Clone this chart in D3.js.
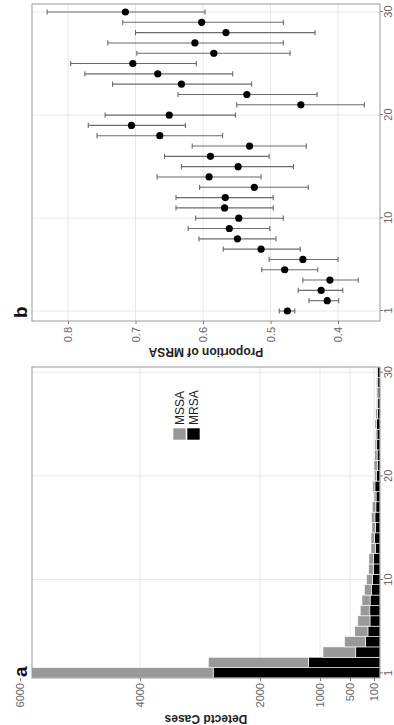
<!DOCTYPE html>
<html><head><meta charset="utf-8">
<script src="https://cdn.jsdelivr.net/npm/d3@7"></script>
<style>
body{margin:0;background:#fff}
svg{display:block}
text{font-family:"Liberation Sans",Arial,sans-serif}
</style>
</head><body>
<svg id="c" width="394" height="725"></svg>
<script>
// ---------- data ----------
const categories = [1,2,3,4,5,6,7,8,9,10,11,12,13,14,15,16,17,18,19,20,21,22,23,24,25,26,27,28,29,30];
const mrsaCases = [2780,1190,404,243,201,167,170,165,146,123,108,105,79,89,74,85,69,66,85,62,45,48,54,50,60,42,37,33,37,40];
const mssaCases = [3070,1670,546,347,219,203,160,135,114,102,82,80,71,61,61,60,61,34,35,33,55,42,31,25,25,30,23,25,25,16];
const casesTicks = [100,500,1000,2000,4000,6000];
const categoryTicks = [1,10,20,30];
const propMRSA  = [0.475,0.416,0.425,0.412,0.479,0.452,0.514,0.549,0.561,0.547,0.568,0.567,0.524,0.591,0.548,0.589,0.531,0.664,0.706,0.650,0.455,0.535,0.632,0.667,0.704,0.584,0.612,0.566,0.602,0.715];
const propLower = [0.464,0.399,0.393,0.370,0.430,0.400,0.456,0.492,0.501,0.481,0.496,0.496,0.444,0.514,0.466,0.502,0.447,0.571,0.626,0.552,0.361,0.431,0.528,0.556,0.610,0.471,0.481,0.434,0.481,0.597];
const propUpper = [0.487,0.443,0.459,0.452,0.513,0.502,0.570,0.606,0.622,0.611,0.640,0.640,0.605,0.668,0.632,0.657,0.616,0.757,0.770,0.745,0.550,0.637,0.734,0.775,0.796,0.698,0.741,0.700,0.719,0.831];
const propTicks = [0.4,0.5,0.6,0.7,0.8];
const seriesNames = ["MRSA","MSSA"];
const legendLabels = ["MSSA","MRSA"];

// ---------- drawing ----------
const svg = d3.select("#c");
// chart laid out in its own 725x394 frame, then turned a quarter turn counter-clockwise
const g = svg.append("g").attr("transform","translate(0,725) rotate(-90)");
const gridCol = "#e8e8e8", boxCol = "#9a9a9a", tickCol = "#7a7a7a", labCol = "#666";

function styleAxis(sel){
  sel.select(".domain").remove();
  sel.selectAll(".tick line").attr("stroke",tickCol);
  sel.selectAll(".tick text").attr("fill",labCol).style("font-size","11px")
     .style("font-family",'"Liberation Sans",Arial,sans-serif');
}

// ===== Panel a =====
const A = {left:47,right:358,top:32,bottom:380};
const xA = d3.scaleBand().domain(categories).range([A.left,A.right]).padding(0);
const yA = d3.scaleLinear().domain([0,6000]).range([380,20]);
const ga = g.append("g");
ga.append("clipPath").attr("id","clipA").append("rect")
  .attr("x",A.left).attr("y",A.top).attr("width",A.right-A.left).attr("height",A.bottom-A.top);
ga.append("g").selectAll("line").data(casesTicks.filter(t=>yA(t)>A.top)).join("line")
  .attr("x1",A.left).attr("x2",A.right).attr("y1",d=>yA(d)).attr("y2",d=>yA(d))
  .attr("stroke",gridCol);
ga.append("g").selectAll("line").data(categoryTicks).join("line")
  .attr("x1",d=>xA(d)+xA.bandwidth()/2).attr("x2",d=>xA(d)+xA.bandwidth()/2)
  .attr("y1",A.top).attr("y2",A.bottom).attr("stroke",gridCol);

const rows = categories.map((c,i)=>({cat:c, MRSA:mrsaCases[i], MSSA:mssaCases[i]}));
const stacked = d3.stack().keys(seriesNames)(rows);
const colA = {MRSA:"#000000", MSSA:"#999999"};
ga.append("g").attr("clip-path","url(#clipA)").selectAll("g").data(stacked).join("g")
  .attr("fill",d=>colA[d.key])
  .selectAll("rect").data(d=>d).join("rect")
  .attr("x",d=>xA(d.data.cat)).attr("width",xA.bandwidth())
  .attr("y",d=>yA(d[1])).attr("height",d=>yA(d[0])-yA(d[1]))
  .attr("stroke","#fff").attr("stroke-width",0.6);

ga.append("rect").attr("x",A.left).attr("y",A.top).attr("width",A.right-A.left)
  .attr("height",A.bottom-A.top).attr("fill","none").attr("stroke",boxCol);
ga.append("g").attr("transform",`translate(${A.left},0)`)
  .call(d3.axisLeft(yA).tickValues(casesTicks).tickFormat(d3.format("d")).tickSize(3).tickPadding(2)).call(styleAxis);
ga.append("g").attr("transform",`translate(0,${A.bottom})`)
  .call(d3.axisBottom(xA).tickValues(categoryTicks).tickSize(3).tickPadding(1)).call(styleAxis);
ga.append("text").attr("transform",`translate(6.5,${(A.top+A.bottom)/2}) rotate(-90)`)
  .attr("text-anchor","middle").attr("dominant-baseline","central")
  .attr("font-weight","bold").attr("font-size",12).attr("fill","#222").text("Detectd Cases");
ga.append("text").attr("x",A.left+1).attr("y",27).attr("font-weight","bold")
  .attr("font-size",19).attr("fill","#111").text("a");

// legend
const lg = ga.append("g");
legendLabels.forEach((k,i)=>{
  lg.append("rect").attr("x",285).attr("y",173+i*14).attr("width",12).attr("height",13)
    .attr("fill",colA[k]).attr("stroke","#fff").attr("stroke-width",0.6);
  lg.append("text").attr("x",300).attr("y",179.5+i*14).attr("dominant-baseline","central")
    .attr("font-size",12).attr("fill","#222").text(k);
});

// ===== Panel b =====
const B = {left:404,right:721,top:32,bottom:380};
const xB = d3.scaleLinear().domain([1,30]).range([414,713]);
const yB = d3.scaleLinear().domain([0.4,0.8]).range([338,68]);
const gb = g.append("g");
gb.append("g").selectAll("line").data(propTicks).join("line")
  .attr("x1",B.left).attr("x2",B.right).attr("y1",d=>yB(d)).attr("y2",d=>yB(d)).attr("stroke",gridCol);
gb.append("g").selectAll("line").data(categoryTicks).join("line")
  .attr("x1",d=>xB(d)).attr("x2",d=>xB(d)).attr("y1",B.top).attr("y2",B.bottom).attr("stroke",gridCol);

const pts = categories.map((c,i)=>({cat:c,p:propMRSA[i],lo:propLower[i],hi:propUpper[i]}));
const eb = gb.append("g").attr("stroke","#6a6a6a").attr("stroke-width",1.1);
eb.selectAll("line.v").data(pts).join("line").attr("class","v")
  .attr("x1",d=>xB(d.cat)).attr("x2",d=>xB(d.cat)).attr("y1",d=>yB(d.lo)).attr("y2",d=>yB(d.hi));
eb.selectAll("line.lo").data(pts).join("line").attr("class","lo")
  .attr("x1",d=>xB(d.cat)-2.6).attr("x2",d=>xB(d.cat)+2.6).attr("y1",d=>yB(d.lo)).attr("y2",d=>yB(d.lo));
eb.selectAll("line.hi").data(pts).join("line").attr("class","hi")
  .attr("x1",d=>xB(d.cat)-2.6).attr("x2",d=>xB(d.cat)+2.6).attr("y1",d=>yB(d.hi)).attr("y2",d=>yB(d.hi));
gb.append("g").selectAll("circle").data(pts).join("circle")
  .attr("cx",d=>xB(d.cat)).attr("cy",d=>yB(d.p)).attr("r",3.6).attr("fill","#000");

gb.append("rect").attr("x",B.left).attr("y",B.top).attr("width",B.right-B.left)
  .attr("height",B.bottom-B.top).attr("fill","none").attr("stroke",boxCol);
gb.append("g").attr("transform",`translate(${B.left},0)`)
  .call(d3.axisLeft(yB).tickValues(propTicks).tickFormat(d3.format(".1f")).tickSize(3).tickPadding(3)).call(styleAxis);
gb.append("g").attr("transform",`translate(0,${B.bottom})`)
  .call(d3.axisBottom(xB).tickValues(categoryTicks).tickSize(3).tickPadding(1)).call(styleAxis);
gb.append("text").attr("transform",`translate(373,${(B.top+B.bottom)/2}) rotate(-90)`)
  .attr("text-anchor","middle").attr("dominant-baseline","central")
  .attr("font-weight","bold").attr("font-size",12).attr("fill","#222").text("Proportion of MRSA");
gb.append("text").attr("x",B.left+3).attr("y",27).attr("font-weight","bold")
  .attr("font-size",19).attr("fill","#111").text("b");
</script>
</body></html>
